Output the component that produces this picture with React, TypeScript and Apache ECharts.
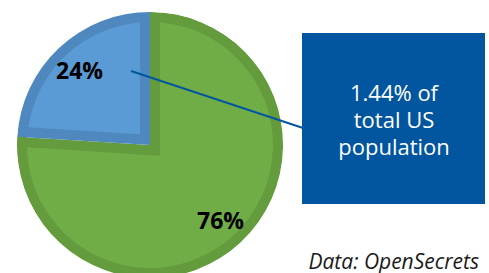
import React, { useEffect, useRef } from "react";
import * as echarts from "echarts";

const categories = ["Rest of donors", "Top donors"];
const values = [76, 24];
const lightColors = ["#70ad47", "#5b9bd5"];
const darkColors = ["#639b3d", "#4f88bf"];
const calloutLines = ["1.44% of", "total US", "population"];
const sourceNote = "Data: OpenSecrets";

export default function App() {
  const ref = useRef<HTMLDivElement>(null);
  useEffect(() => {
    if (!ref.current) return;
    const chart = echarts.init(ref.current, undefined, { renderer: "svg" });
    const center = [150, 145];
    const R = 133;
    const band = 10;
    const mk = (colors: string[]) =>
      categories.map((name, i) => ({
        name,
        value: values[i],
        itemStyle: { color: colors[i] },
      }));
    const base = {
      type: "pie",
      center,
      startAngle: 90,
      clockwise: true,
      silent: true,
      label: { show: false },
      labelLine: { show: false },
      emphasis: { disabled: true },
    };
    const total = values.reduce((a, b) => a + b, 0);
    const blueAngle = (values[1] / total) * 2 * Math.PI;
    const offset = band / Math.sin(blueAngle / 2);
    const option: any = {
      animation: false,
      backgroundColor: "#ffffff",
      series: [
        { ...base, z: 1, radius: [0, R], data: mk(darkColors) },
        {
          ...base,
          z: 2,
          radius: [0, R + 3],
          selectedMode: "multiple",
          selectedOffset: offset,
          data: categories.map((name, i) => ({
            name,
            value: values[i],
            selected: true,
            itemStyle: { color: lightColors[i] },
            select: { itemStyle: { color: lightColors[i] } },
          })),
        },
        { ...base, z: 3, radius: [R - band, R], data: mk(darkColors) },
        { ...base, z: 4, radius: [R, R + 22], data: mk(["#ffffff", "#ffffff"]) },
        {
          ...base,
          z: 5,
          radius: [67, R],
          data: mk(["rgba(0,0,0,0)", "rgba(0,0,0,0)"]),
          label: {
            show: true,
            position: "inside",
            formatter: "{d}%",
            fontFamily: "Open Sans",
            fontWeight: "bold",
            fontSize: 23,
            color: "#000000",
          },
        },
      ],
      graphic: [
        {
          type: "line",
          z: 100,
          shape: { x1: 131, y1: 71, x2: 303, y2: 128 },
          style: { stroke: "#02569f", lineWidth: 2 },
        },
        {
          type: "rect",
          z: 100,
          shape: { x: 302, y: 33, width: 183, height: 171 },
          style: { fill: "#02569f" },
        },
        {
          type: "text",
          z: 101,
          x: 394,
          y: 119,
          style: {
            text: calloutLines.join("\n"),
            fill: "#ffffff",
            fontFamily: "Open Sans",
            fontSize: 22,
            lineHeight: 27,
            align: "center",
            verticalAlign: "middle",
          },
        },
        {
          type: "text",
          z: 101,
          x: 479,
          y: 250,
          style: {
            text: sourceNote,
            fill: "#1a1a1a",
            fontFamily: "Open Sans",
            fontStyle: "italic",
            fontSize: 21,
            align: "right",
            verticalAlign: "top",
          },
        },
      ],
    };
    chart.setOption(option);
    return () => chart.dispose();
  }, []);
  return (
    <div
      ref={ref}
      style={{ position: "fixed", left: 0, top: 0, width: 489, height: 273 }}
    />
  );
}
